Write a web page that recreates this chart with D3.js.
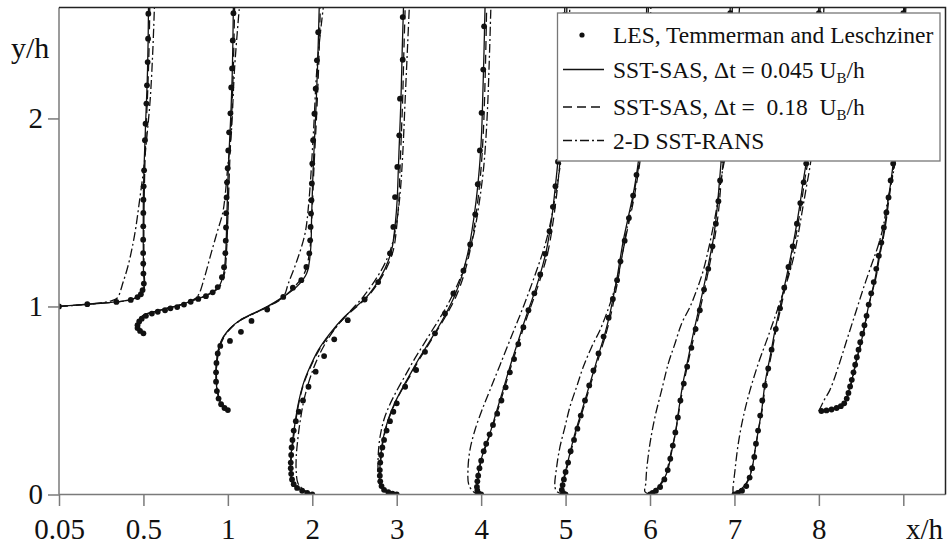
<!DOCTYPE html>
<html>
<head>
<meta charset="utf-8">
<script src="https://cdn.jsdelivr.net/npm/d3@7"></script>
<style>
    body { margin: 0; background: #fff; }
    svg text { font-family: "Liberation Serif", "DejaVu Serif", serif; fill: #111; }
</style>
</head>
<body>
<svg id="chart" width="948" height="545"></svg>
<script>
// Station labels along x (x/h); last tick has no label
var stationLabels = ["0.05", "0.5", "1", "2", "3", "4", "5", "6", "7", "8"];
var yTicks = [0, 1, 2];

// Each profile: [u/U_B offset from station, y/h]
var lesProfiles = [
    [[0,1.0],[0.335,1.012],[0.68,1.024],[0.85,1.035],[0.93,1.05],[0.97,1.065],[0.99,1.087],[1.005,1.122],[1.0,1.175],[0.998,1.228],[0.997,1.284],[0.997,1.355],[0.998,1.426],[0.999,1.497],[1.0,1.568],[1.003,1.639],[1.008,1.724],[1.018,1.884],[1.025,1.972],[1.035,2.079],[1.042,2.176],[1.05,2.3],[1.055,2.424],[1.058,2.557]],
    [[0,0.857],[-0.04,0.87],[-0.07,0.885],[-0.07,0.9],[-0.05,0.92],[-0.02,0.935],[0.03,0.95],[0.1,0.962],[0.17,0.972],[0.256,0.98],[0.32,0.99],[0.4,0.997],[0.48,1.01],[0.56,1.025],[0.65,1.04],[0.74,1.055],[0.82,1.075],[0.88,1.103],[0.93,1.156],[0.955,1.209],[0.97,1.283],[0.975,1.35],[0.978,1.42],[0.98,1.496],[0.985,1.58],[0.99,1.66],[0.998,1.735],[1.005,1.83],[1.015,1.926],[1.03,2.027],[1.04,2.165],[1.05,2.266],[1.058,2.415],[1.066,2.56]],
    [[0,0.449],[-0.04,0.46],[-0.08,0.48],[-0.11,0.51],[-0.13,0.55],[-0.14,0.6],[-0.14,0.65],[-0.135,0.7],[-0.12,0.75],[-0.09,0.79],[0.025,0.817],[0.155,0.865],[0.28,0.923],[0.466,0.984],[0.656,1.051],[0.77,1.1],[0.87,1.14],[0.93,1.21],[0.965,1.282],[0.975,1.352],[0.98,1.423],[0.985,1.494],[0.99,1.565],[0.995,1.654],[1.0,1.76],[1.01,1.884],[1.025,2.025],[1.04,2.158],[1.055,2.309],[1.07,2.459]],
    [[0,0],[-0.06,0.008],[-0.12,0.02],[-0.18,0.035],[-0.22,0.055],[-0.24,0.08],[-0.25,0.11],[-0.255,0.14],[-0.255,0.17],[-0.25,0.21],[-0.245,0.25],[-0.235,0.29],[-0.22,0.34],[-0.195,0.39],[-0.16,0.44],[-0.11,0.5],[-0.045,0.573],[0.04,0.653],[0.14,0.736],[0.26,0.825],[0.42,0.927],[0.62,1.037],[0.78,1.13],[0.92,1.282],[0.96,1.423],[0.98,1.582],[1.007,1.742],[1.03,1.91],[1.039,2.105],[1.071,2.312],[1.071,2.539]],
    [[0,0],[-0.05,0.004],[-0.1,0.012],[-0.15,0.025],[-0.18,0.045],[-0.195,0.07],[-0.2,0.1],[-0.2,0.13],[-0.195,0.17],[-0.185,0.21],[-0.17,0.25],[-0.15,0.29],[-0.12,0.34],[-0.08,0.39],[-0.04,0.44],[0.0,0.485],[0.1,0.573],[0.23,0.662],[0.335,0.759],[0.453,0.857],[0.572,0.963],[0.671,1.069],[0.79,1.19],[0.87,1.33],[0.93,1.49],[0.96,1.65],[0.985,1.83],[1.005,2.03],[1.025,2.26],[1.035,2.49]],
    [[0,0],[-0.03,0.006],[-0.045,0.02],[-0.05,0.04],[-0.045,0.07],[-0.035,0.1],[-0.02,0.14],[0.0,0.18],[0.03,0.23],[0.06,0.27],[0.1,0.32],[0.14,0.37],[0.19,0.43],[0.24,0.5],[0.29,0.57],[0.34,0.65],[0.39,0.72],[0.44,0.8],[0.5,0.89],[0.56,0.98],[0.63,1.07],[0.7,1.17],[0.76,1.28],[0.81,1.4],[0.85,1.53],[0.88,1.64],[0.91,1.77],[0.94,1.95],[0.965,2.15],[0.98,2.35],[0.99,2.55]],
    [[0,0],[-0.03,0.008],[-0.045,0.025],[-0.035,0.05],[-0.02,0.08],[0.0,0.12],[0.03,0.17],[0.06,0.23],[0.1,0.29],[0.14,0.35],[0.18,0.42],[0.23,0.5],[0.28,0.58],[0.33,0.66],[0.39,0.75],[0.45,0.84],[0.51,0.94],[0.56,1.04],[0.61,1.14],[0.65,1.24],[0.7,1.35],[0.75,1.47],[0.8,1.59],[0.84,1.7],[0.87,1.8],[0.91,1.98],[0.94,2.2],[0.96,2.45]],
    [[0,0],[0.03,0.008],[0.07,0.02],[0.12,0.04],[0.17,0.08],[0.21,0.13],[0.24,0.19],[0.27,0.26],[0.3,0.33],[0.33,0.41],[0.36,0.5],[0.4,0.59],[0.44,0.68],[0.49,0.78],[0.54,0.88],[0.59,0.98],[0.64,1.09],[0.69,1.2],[0.74,1.32],[0.78,1.44],[0.81,1.56],[0.83,1.67],[0.86,1.78],[0.89,1.95],[0.92,2.15],[0.94,2.38],[0.95,2.56]],
    [[0,0],[0.04,0.008],[0.09,0.02],[0.14,0.045],[0.18,0.09],[0.21,0.14],[0.235,0.2],[0.255,0.27],[0.28,0.34],[0.305,0.42],[0.33,0.5],[0.36,0.58],[0.4,0.67],[0.44,0.77],[0.49,0.88],[0.54,0.99],[0.59,1.1],[0.64,1.21],[0.69,1.32],[0.74,1.44],[0.78,1.55],[0.82,1.66],[0.85,1.76],[0.9,1.93],[0.95,2.15],[0.98,2.38],[1.0,2.56]],
    [[0.03,0.444],[0.09,0.447],[0.15,0.452],[0.21,0.46],[0.26,0.47],[0.3,0.485],[0.33,0.51],[0.35,0.54],[0.37,0.575],[0.39,0.61],[0.41,0.65],[0.43,0.69],[0.45,0.73],[0.47,0.77],[0.49,0.81],[0.515,0.855],[0.54,0.9],[0.565,0.95],[0.59,1.01],[0.62,1.07],[0.65,1.13],[0.68,1.2],[0.71,1.27],[0.74,1.34],[0.77,1.42],[0.8,1.5],[0.825,1.58],[0.85,1.67],[0.88,1.76],[0.92,1.9],[0.96,2.1],[0.99,2.35],[1.0,2.56]]
];

// SST-SAS, dt = 0.045 U_B/h (solid)
var sasFineProfiles = [
    [[0,1.0],[0.33,1.012],[0.68,1.024],[0.88,1.04],[0.97,1.065],[1.005,1.1],[1.0,1.2],[0.998,1.4],[1.0,1.6],[1.012,1.8],[1.028,2.0],[1.045,2.2],[1.055,2.4],[1.06,2.59]],
    [[0,0.857],[-0.07,0.885],[-0.06,0.918],[0,0.954],[0.12,0.971],[0.28,0.99],[0.43,1.007],[0.59,1.033],[0.75,1.06],[0.89,1.104],[0.95,1.175],[0.976,1.3],[0.988,1.476],[1.006,1.742],[1.034,2.007],[1.054,2.273],[1.065,2.59]],
    [[0,0.449],[-0.073,0.476],[-0.121,0.538],[-0.141,0.626],[-0.133,0.715],[-0.105,0.785],[-0.054,0.838],[0.025,0.883],[0.143,0.927],[0.301,0.963],[0.46,0.998],[0.656,1.051],[0.814,1.104],[0.933,1.175],[0.98,1.3],[0.992,1.476],[1.011,1.742],[1.039,2.007],[1.062,2.273],[1.082,2.59]],
    [[0,0],[-0.126,0.024],[-0.225,0.05],[-0.256,0.113],[-0.256,0.183],[-0.237,0.272],[-0.205,0.378],[-0.165,0.485],[-0.105,0.591],[-0.027,0.679],[0.071,0.768],[0.21,0.857],[0.37,0.94],[0.52,1.0],[0.644,1.051],[0.762,1.122],[0.86,1.2],[0.94,1.3],[0.985,1.45],[1.005,1.565],[1.02,1.742],[1.035,1.92],[1.05,2.096],[1.065,2.362],[1.08,2.59]],
    [[0,0],[-0.12,0.012],[-0.19,0.05],[-0.2,0.12],[-0.19,0.2],[-0.16,0.3],[-0.1,0.4],[-0.03,0.48],[0.06,0.56],[0.16,0.64],[0.26,0.72],[0.37,0.8],[0.48,0.88],[0.58,0.96],[0.68,1.05],[0.77,1.16],[0.84,1.28],[0.89,1.4],[0.94,1.56],[0.98,1.74],[1.005,1.92],[1.018,2.1],[1.034,2.36],[1.046,2.59]],
    [[0,0],[-0.04,0.024],[-0.045,0.061],[-0.02,0.148],[0.033,0.236],[0.104,0.325],[0.175,0.431],[0.258,0.555],[0.353,0.697],[0.442,0.821],[0.531,0.945],[0.614,1.051],[0.702,1.175],[0.773,1.299],[0.833,1.459],[0.874,1.618],[0.91,1.777],[0.94,1.95],[0.965,2.15],[0.98,2.35],[0.99,2.59]],
    [[0,0],[-0.047,0.024],[-0.027,0.077],[0.013,0.148],[0.06,0.236],[0.111,0.325],[0.17,0.413],[0.23,0.502],[0.289,0.591],[0.348,0.679],[0.407,0.768],[0.467,0.857],[0.526,0.963],[0.565,1.051],[0.605,1.14],[0.644,1.246],[0.684,1.352],[0.743,1.476],[0.802,1.6],[0.842,1.707],[0.861,1.768],[0.9,1.95],[0.93,2.15],[0.95,2.35],[0.96,2.59]],
    [[0,0],[0.06,0.024],[0.14,0.06],[0.21,0.13],[0.26,0.236],[0.3,0.325],[0.34,0.449],[0.39,0.591],[0.45,0.72],[0.51,0.85],[0.57,0.97],[0.63,1.09],[0.69,1.22],[0.75,1.36],[0.79,1.5],[0.82,1.65],[0.84,1.76],[0.88,1.95],[0.91,2.15],[0.93,2.35],[0.95,2.59]],
    [[0,0],[0.066,0.024],[0.146,0.06],[0.205,0.13],[0.244,0.236],[0.283,0.343],[0.323,0.449],[0.362,0.591],[0.422,0.732],[0.481,0.874],[0.54,0.998],[0.599,1.122],[0.658,1.246],[0.718,1.388],[0.777,1.547],[0.816,1.671],[0.848,1.76],[0.9,1.95],[0.94,2.15],[0.97,2.35],[1.0,2.59]],
    [[0,0.444],[0.132,0.453],[0.23,0.463],[0.305,0.487],[0.345,0.538],[0.39,0.608],[0.435,0.697],[0.475,0.768],[0.515,0.838],[0.555,0.927],[0.595,1.016],[0.635,1.087],[0.67,1.157],[0.71,1.264],[0.75,1.352],[0.79,1.459],[0.82,1.565],[0.85,1.654],[0.88,1.76],[0.925,1.95],[0.965,2.15],[0.99,2.35],[1.005,2.59]]
];

// SST-SAS, dt = 0.18 U_B/h (dashed)
var sasCoarseProfiles = [
    [[0,1.0],[0.33,1.012],[0.68,1.024],[0.88,1.04],[0.975,1.065],[1.01,1.1],[1.007,1.2],[1.005,1.4],[1.01,1.6],[1.02,1.8],[1.037,2.0],[1.055,2.2],[1.068,2.4],[1.075,2.59]],
    [[0,0.857],[-0.07,0.885],[-0.06,0.918],[0,0.952],[0.12,0.97],[0.28,0.99],[0.43,1.007],[0.59,1.033],[0.76,1.06],[0.9,1.104],[0.96,1.175],[0.985,1.3],[1.0,1.476],[1.02,1.742],[1.045,2.007],[1.065,2.273],[1.08,2.59]],
    [[0,0.449],[-0.07,0.476],[-0.118,0.538],[-0.138,0.626],[-0.13,0.715],[-0.1,0.785],[-0.05,0.838],[0.03,0.883],[0.15,0.927],[0.31,0.963],[0.47,0.998],[0.66,1.051],[0.8,1.11],[0.91,1.18],[0.97,1.3],[0.995,1.476],[1.02,1.742],[1.05,2.007],[1.075,2.273],[1.095,2.59]],
    [[0,0],[-0.12,0.024],[-0.22,0.05],[-0.25,0.113],[-0.25,0.183],[-0.23,0.272],[-0.2,0.378],[-0.16,0.485],[-0.1,0.591],[-0.02,0.679],[0.08,0.768],[0.22,0.857],[0.38,0.94],[0.53,1.0],[0.655,1.051],[0.775,1.122],[0.875,1.2],[0.96,1.3],[1.005,1.45],[1.025,1.565],[1.04,1.742],[1.055,1.92],[1.07,2.096],[1.085,2.362],[1.1,2.59]],
    [[0,0],[-0.115,0.012],[-0.185,0.05],[-0.195,0.12],[-0.185,0.2],[-0.155,0.3],[-0.095,0.4],[-0.025,0.48],[0.065,0.56],[0.17,0.64],[0.27,0.72],[0.38,0.8],[0.49,0.88],[0.595,0.96],[0.7,1.05],[0.79,1.16],[0.86,1.28],[0.91,1.4],[0.96,1.56],[1.0,1.74],[1.025,1.92],[1.04,2.1],[1.055,2.36],[1.065,2.59]],
    [[0,0],[-0.035,0.024],[-0.04,0.061],[-0.015,0.148],[0.04,0.236],[0.11,0.325],[0.185,0.431],[0.27,0.555],[0.365,0.697],[0.455,0.821],[0.545,0.945],[0.63,1.051],[0.72,1.175],[0.795,1.299],[0.855,1.459],[0.9,1.618],[0.935,1.777],[0.965,1.95],[0.99,2.15],[1.005,2.35],[1.015,2.59]],
    [[0,0],[-0.04,0.024],[-0.02,0.077],[0.02,0.148],[0.068,0.236],[0.12,0.325],[0.18,0.413],[0.24,0.502],[0.3,0.591],[0.36,0.679],[0.42,0.768],[0.48,0.857],[0.54,0.963],[0.58,1.051],[0.62,1.14],[0.66,1.246],[0.705,1.352],[0.765,1.476],[0.82,1.6],[0.86,1.707],[0.88,1.768],[0.92,1.95],[0.95,2.15],[0.97,2.35],[0.98,2.59]],
    [[0,0],[0.055,0.024],[0.13,0.06],[0.2,0.13],[0.255,0.236],[0.3,0.325],[0.345,0.449],[0.4,0.591],[0.46,0.72],[0.525,0.85],[0.585,0.97],[0.645,1.09],[0.705,1.22],[0.765,1.36],[0.81,1.5],[0.84,1.65],[0.865,1.76],[0.9,1.95],[0.93,2.15],[0.955,2.35],[0.975,2.59]],
    [[0,0],[0.06,0.024],[0.14,0.06],[0.2,0.13],[0.245,0.236],[0.285,0.343],[0.328,0.449],[0.37,0.591],[0.432,0.732],[0.492,0.874],[0.552,0.998],[0.612,1.122],[0.672,1.246],[0.733,1.388],[0.792,1.547],[0.832,1.671],[0.865,1.76],[0.915,1.95],[0.955,2.15],[0.985,2.35],[1.015,2.59]],
    [[0,0.444],[0.13,0.453],[0.23,0.465],[0.31,0.49],[0.352,0.54],[0.395,0.61],[0.438,0.697],[0.478,0.768],[0.518,0.838],[0.558,0.927],[0.598,1.016],[0.638,1.087],[0.678,1.157],[0.718,1.264],[0.758,1.352],[0.798,1.459],[0.828,1.565],[0.858,1.654],[0.89,1.76],[0.935,1.95],[0.975,2.15],[1.0,2.35],[1.015,2.59]]
];

// 2-D SST-RANS (dash-dot)
var ransProfiles = [
    [[0,1.0],[0.35,1.012],[0.62,1.03],[0.69,1.045],[0.76,1.13],[0.82,1.22],[0.87,1.32],[0.91,1.42],[0.95,1.55],[1.0,1.72],[1.04,1.9],[1.08,2.1],[1.11,2.35],[1.13,2.59]],
    [[0,0.857],[-0.06,0.885],[-0.05,0.918],[0,0.952],[0.12,0.97],[0.28,0.99],[0.43,1.007],[0.59,1.035],[0.65,1.06],[0.72,1.15],[0.8,1.28],[0.87,1.39],[0.94,1.5],[0.97,1.6],[1.0,1.75],[1.04,1.92],[1.08,2.27],[1.136,2.59]],
    [[0,0.449],[-0.07,0.476],[-0.118,0.538],[-0.135,0.626],[-0.125,0.715],[-0.095,0.785],[-0.045,0.838],[0.03,0.883],[0.15,0.927],[0.31,0.963],[0.47,0.998],[0.656,1.051],[0.716,1.122],[0.82,1.246],[0.914,1.388],[0.961,1.565],[1.013,1.92],[1.056,2.273],[1.13,2.59]],
    [[0,0],[-0.1,0.024],[-0.17,0.06],[-0.19,0.12],[-0.19,0.2],[-0.17,0.3],[-0.14,0.4],[-0.1,0.5],[-0.04,0.6],[0.04,0.7],[0.15,0.8],[0.3,0.9],[0.46,0.98],[0.6,1.05],[0.73,1.13],[0.85,1.22],[0.94,1.32],[1.0,1.45],[1.04,1.6],[1.07,1.8],[1.1,2.1],[1.13,2.4],[1.149,2.59]],
    [[0,0],[-0.13,0.012],[-0.2,0.05],[-0.22,0.12],[-0.22,0.2],[-0.2,0.3],[-0.15,0.4],[-0.08,0.48],[0.01,0.56],[0.11,0.64],[0.21,0.72],[0.32,0.8],[0.43,0.88],[0.54,0.96],[0.65,1.05],[0.76,1.16],[0.85,1.28],[0.92,1.4],[0.98,1.56],[1.03,1.74],[1.06,1.92],[1.08,2.1],[1.1,2.36],[1.115,2.59]],
    [[0,0],[-0.073,0.008],[-0.145,0.05],[-0.156,0.13],[-0.133,0.236],[-0.073,0.343],[0.01,0.449],[0.104,0.555],[0.223,0.688],[0.365,0.848],[0.507,1.007],[0.637,1.166],[0.756,1.326],[0.839,1.485],[0.898,1.645],[0.945,1.777],[0.98,1.95],[1.01,2.15],[1.03,2.35],[1.05,2.59]],
    [[0,0],[-0.1,0.015],[-0.126,0.04],[-0.105,0.148],[-0.066,0.254],[-0.007,0.36],[0.052,0.467],[0.131,0.573],[0.21,0.679],[0.309,0.785],[0.407,0.874],[0.486,0.963],[0.56,1.06],[0.62,1.16],[0.67,1.27],[0.72,1.4],[0.78,1.53],[0.83,1.65],[0.87,1.76],[0.92,1.95],[0.96,2.15],[0.99,2.35],[1.01,2.59]],
    [[0,0],[-0.06,0.015],[-0.05,0.06],[-0.04,0.13],[0,0.272],[0.059,0.413],[0.138,0.555],[0.217,0.697],[0.296,0.803],[0.375,0.91],[0.474,0.998],[0.553,1.087],[0.63,1.19],[0.7,1.32],[0.76,1.45],[0.81,1.58],[0.85,1.7],[0.89,1.8],[0.94,1.97],[0.98,2.15],[1.02,2.35],[1.06,2.59]],
    [[0,0],[-0.015,0.01],[0.007,0.13],[0.046,0.272],[0.105,0.413],[0.185,0.555],[0.283,0.697],[0.383,0.821],[0.481,0.945],[0.56,1.051],[0.638,1.157],[0.7,1.26],[0.75,1.37],[0.8,1.5],[0.85,1.63],[0.9,1.76],[0.95,1.95],[0.99,2.15],[1.03,2.35],[1.06,2.59]],
    [[0,0.444],[0.06,0.5],[0.13,0.555],[0.23,0.679],[0.33,0.82],[0.43,0.96],[0.53,1.1],[0.63,1.23],[0.7,1.32],[0.76,1.42],[0.81,1.55],[0.86,1.66],[0.9,1.76],[0.95,1.95],[0.99,2.15],[1.01,2.35],[1.03,2.59]]
];

var legendItems = [
    {type: "dot", text: "LES, Temmerman and Leschziner"},
    {type: "solid", text: "SST-SAS, \u0394t = 0.045 U", sub: "B", tail: "/h"},
    {type: "dashed", text: "SST-SAS, \u0394t =  0.18  U", sub: "B", tail: "/h"},
    {type: "dashdot", text: "2-D SST-RANS"}
];

var dashes = {solid: null, dashed: "9,5", dashdot: "9,3,2,3"};

var svg = d3.select("#chart");

// plot frame edges in pixels
var frameLeft = 59, frameRight = 945.5, frameTop = 7.5, frameBottom = 494.5;

// x scale is station index; one station spacing equals u/U_B = 1
var x = d3.scaleLinear().domain([0, 10]).range([frameLeft, 903.3]);
var y = d3.scaleLinear().domain([0, 2.59]).range([frameBottom, frameTop]);

svg.append("clipPath").attr("id", "plot-clip")
    .append("rect")
    .attr("x", frameLeft).attr("y", frameTop)
    .attr("width", frameRight - frameLeft).attr("height", frameBottom - frameTop);

var plot = svg.append("g").attr("clip-path", "url(#plot-clip)");

function lineFor(i) {
    return d3.line()
        .x(function (d) { return x(i + d[0]); })
        .y(function (d) { return y(d[1]); })
        .curve(d3.curveCatmullRom.alpha(0.5));
}

// RANS, then the two SAS runs
[[ransProfiles, "dashdot"], [sasCoarseProfiles, "dashed"], [sasFineProfiles, "solid"]].forEach(function (s) {
    s[0].forEach(function (prof, i) {
        plot.append("path")
            .datum(prof)
            .attr("fill", "none")
            .attr("stroke", "#111")
            .attr("stroke-width", 1.3)
            .attr("stroke-dasharray", dashes[s[1]])
            .attr("d", lineFor(i));
    });
});

// LES dots
lesProfiles.forEach(function (prof, i) {
    plot.selectAll(null)
        .data(prof)
        .enter().append("circle")
        .attr("cx", function (d) { return x(i + d[0]); })
        .attr("cy", function (d) { return y(d[1]); })
        .attr("r", 2.9)
        .attr("fill", "#111");
});

// axes
var xAxis = svg.append("g")
    .attr("transform", "translate(0," + frameBottom + ")")
    .call(d3.axisBottom(x)
        .tickValues(d3.range(0, 11))
        .tickFormat(function (d) { return stationLabels[d] || ""; })
        .tickSize(11.5)
        .tickSizeOuter(0)
        .tickPadding(12));
xAxis.select(".domain").attr("d", "M" + frameLeft + ",0H" + frameRight);

var yAxis = svg.append("g")
    .attr("transform", "translate(" + frameLeft + ",0)")
    .call(d3.axisLeft(y)
        .tickValues(yTicks)
        .tickFormat(d3.format("d"))
        .tickSize(11)
        .tickSizeOuter(0)
        .tickPadding(5));
yAxis.select(".domain").attr("d", "M0," + frameTop + "V" + frameBottom);

svg.selectAll(".domain, .tick line")
    .attr("stroke", "#7a7a7a")
    .attr("stroke-width", 1.5);
svg.selectAll(".tick text")
    .attr("font-size", "29px")
    .attr("font-family", "Liberation Serif");

// top and right border
svg.append("path")
    .attr("d", "M" + frameLeft + "," + frameTop + "H" + frameRight + "V" + frameBottom)
    .attr("fill", "none")
    .attr("stroke", "#222")
    .attr("stroke-width", 1.5);

// axis titles
svg.append("text")
    .attr("x", 11)
    .attr("y", 58)
    .attr("font-size", "30px")
    .text("y/h");

svg.append("text")
    .attr("x", 906)
    .attr("y", 538.5)
    .attr("font-size", "29px")
    .text("x/h");

// legend
var legend = svg.append("g");
legend.append("rect")
    .attr("x", 557.5).attr("y", 13)
    .attr("width", 382.5).attr("height", 148)
    .attr("fill", "#fff")
    .attr("stroke", "#777")
    .attr("stroke-width", 1.3);

var rowY = [35, 69.5, 107, 140.5];
legendItems.forEach(function (item, k) {
    var g = legend.append("g").attr("transform", "translate(0," + rowY[k] + ")");
    if (item.type === "dot") {
        g.append("circle").attr("cx", 582).attr("cy", 0).attr("r", 2.6).attr("fill", "#111");
    } else {
        g.append("line")
            .attr("x1", 563).attr("x2", 604)
            .attr("stroke", "#111")
            .attr("stroke-width", 1.3)
            .attr("stroke-dasharray", dashes[item.type]);
    }
    var t = g.append("text")
        .attr("x", 613)
        .attr("y", 8)
        .attr("font-size", "23.5px")
        .style("white-space", "pre")
        .text(item.text);
    if (item.sub) {
        t.append("tspan").attr("font-size", "15px").attr("dy", 5).text(item.sub);
        t.append("tspan").attr("dy", -5).text(item.tail);
    }
});
</script>
</body>
</html>
